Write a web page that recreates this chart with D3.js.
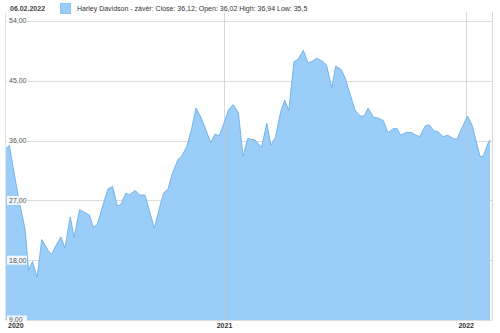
<!DOCTYPE html>
<html>
<head>
<meta charset="utf-8">
<script src="https://cdn.jsdelivr.net/npm/d3@7"></script>
<style>
  body { margin: 0; background: #fff; }
  svg { font-family: "Liberation Sans", Arial, sans-serif; display: block; }
</style>
</head>
<body>
<svg></svg>
<script>
// traced vertices of the weekly close line
var dates = [
  "2020-02-06","2020-02-11","2020-02-20","2020-02-26","2020-03-03","2020-03-06","2020-03-11","2020-03-17",
  "2020-03-24","2020-03-31","2020-04-10","2020-04-15","2020-04-22","2020-04-29","2020-05-05","2020-05-13",
  "2020-05-19","2020-05-27","2020-06-11","2020-06-17","2020-06-23","2020-07-02","2020-07-09","2020-07-16",
  "2020-07-23","2020-07-28","2020-08-05","2020-08-10","2020-08-19","2020-08-26","2020-09-03","2020-09-17",
  "2020-09-26","2020-10-01","2020-10-08","2020-10-14","2020-10-23","2020-10-28","2020-11-05","2020-11-12",
  "2020-11-19","2020-11-26","2020-12-04","2020-12-11","2020-12-18","2020-12-24","2020-12-30","2021-01-07",
  "2021-01-14","2021-01-22","2021-01-29","2021-02-05","2021-02-16","2021-02-26","2021-03-06","2021-03-12",
  "2021-03-19","2021-03-27","2021-04-02","2021-04-08","2021-04-16","2021-04-22","2021-04-30","2021-05-07",
  "2021-05-13","2021-05-20","2021-05-28","2021-06-04","2021-06-12","2021-06-18","2021-06-26","2021-07-02",
  "2021-07-10","2021-07-17","2021-07-25","2021-07-31","2021-08-06","2021-08-14","2021-08-21","2021-08-29",
  "2021-09-05","2021-09-13","2021-09-19","2021-09-24","2021-10-02","2021-10-11","2021-10-17","2021-10-23",
  "2021-10-31","2021-11-06","2021-11-13","2021-11-20","2021-11-27","2021-12-04","2021-12-13","2021-12-18",
  "2021-12-25","2022-01-03","2022-01-10","2022-01-22","2022-01-27","2022-02-03","2022-02-06"
];
var closes = [
  34.8,35.3,30.1,26.8,24.0,22.5,16.5,17.8,
  15.4,21.1,19.4,18.9,20.3,21.5,19.8,24.5,
  21.4,25.6,24.8,22.95,23.4,26.5,28.7,29.1,
  26.2,26.3,28.1,27.8,28.5,27.8,27.8,22.8,
  26.3,28.1,28.8,31.0,33.2,33.6,35.1,37.6,
  40.9,39.6,37.6,35.7,37.0,36.7,38.3,40.6,
  41.4,40.2,33.6,36.3,36.1,35.0,38.6,35.3,
  36.5,40.4,42.1,40.5,47.9,48.2,49.6,47.7,
  47.9,48.4,48.0,47.4,43.9,47.2,46.7,45.5,
  42.9,40.6,39.7,39.7,40.9,39.5,39.4,39.0,
  37.2,37.8,37.8,36.8,37.2,37.2,36.8,36.6,
  38.2,38.4,37.5,37.3,36.6,36.8,36.3,36.2,
  37.8,39.7,38.3,33.6,33.7,35.6,36.12
];
var yTicks = [9, 18, 27, 36, 45, 54];
var xTickLabels = ["2020", "2021", "2022"];
var headerDate = "06.02.2022";
var legendText = "Harley Davidson - závěr: Close: 36,12; Open: 36,02 High: 36,94 Low: 35,5";

var width = 500, height = 333;
var plotLeft = 6, plotRight = 490, plotTop = 21, plotBottom = 320;
var parse = d3.timeParse("%Y-%m-%d");
var data = dates.map((d, i) => ({date: parse(d), close: closes[i]}));

var svg = d3.select("svg").attr("width", width).attr("height", height);

var x = d3.scaleTime().domain(d3.extent(data, d => d.date)).range([plotLeft, plotRight]);
var y = d3.scaleLinear().domain([9, 54]).range([plotBottom, plotTop]);
var fmt = v => d3.format(".2f")(v).replace(".", ",");

// horizontal grid
svg.append("g").selectAll("line").data(yTicks).join("line")
  .attr("x1", plotLeft).attr("x2", plotRight + 2)
  .attr("y1", d => Math.round(y(d)) + 0.5).attr("y2", d => Math.round(y(d)) + 0.5)
  .attr("stroke", "#dcdcdc");

// area
svg.append("path").datum(data)
  .attr("fill", "#9acdf7")
  .attr("d", d3.area().x(d => x(d.date)).y0(y(9)).y1(d => y(d.close)));

var yearStarts = xTickLabels.slice(1).map(s => d3.timeParse("%Y")(s));

// vertical grid lines drawn over the fill
svg.append("g").selectAll("line").data(yearStarts).join("line")
  .attr("x1", d => Math.round(x(d)) + 0.5).attr("x2", d => Math.round(x(d)) + 0.5)
  .attr("y1", 12).attr("y2", plotBottom)
  .attr("stroke", "#c8c8c8").attr("stroke-opacity", 0.7);
svg.append("line")
  .attr("x1", plotRight + 2.5).attr("x2", plotRight + 2.5).attr("y1", 12).attr("y2", plotBottom)
  .attr("stroke", "#d8d8d8");
svg.append("line")
  .attr("x1", plotLeft - 0.5).attr("x2", plotLeft - 0.5).attr("y1", 12).attr("y2", plotBottom)
  .attr("stroke", "#e4e4e4");

svg.append("path").datum(data)
  .attr("fill", "none")
  .attr("stroke", "#74b4ea")
  .attr("stroke-width", 1)
  .attr("d", d3.line().x(d => x(d.date)).y(d => y(d.close)));

// y labels with white boxes
var yl = svg.append("g").selectAll("g").data(yTicks).join("g")
  .attr("transform", d => "translate(9," + y(d) + ")");
yl.append("rect").attr("x", -2).attr("y", -4.5).attr("width", 20).attr("height", 9)
  .attr("fill", "#fff").attr("fill-opacity", 0.85);
yl.append("text").attr("dy", "0.35em").attr("font-size", 7).attr("fill", "#555")
  .text(d => fmt(d));

// x labels
svg.append("text").attr("x", 8).attr("y", 328).attr("font-size", 7).attr("font-weight", "bold")
  .attr("fill", "#333").text(xTickLabels[0]);
svg.append("g").selectAll("text").data(yearStarts).join("text")
  .attr("x", d => x(d)).attr("y", 328).attr("text-anchor", "middle")
  .attr("font-size", 7).attr("font-weight", "bold").attr("fill", "#333")
  .text((d, i) => xTickLabels[i + 1]);

// header
svg.append("text").attr("x", 10).attr("y", 11).attr("font-size", 7).attr("font-weight", "bold")
  .attr("fill", "#444").text(headerDate);
svg.append("rect").attr("x", 60.5).attr("y", 3.5).attr("width", 10).attr("height", 10)
  .attr("fill", "#9acdf7").attr("stroke", "#8cc2f0");
svg.append("text").attr("x", 77).attr("y", 11).attr("font-size", 7)
  .attr("fill", "#333").text(legendText);
</script>
</body>
</html>
